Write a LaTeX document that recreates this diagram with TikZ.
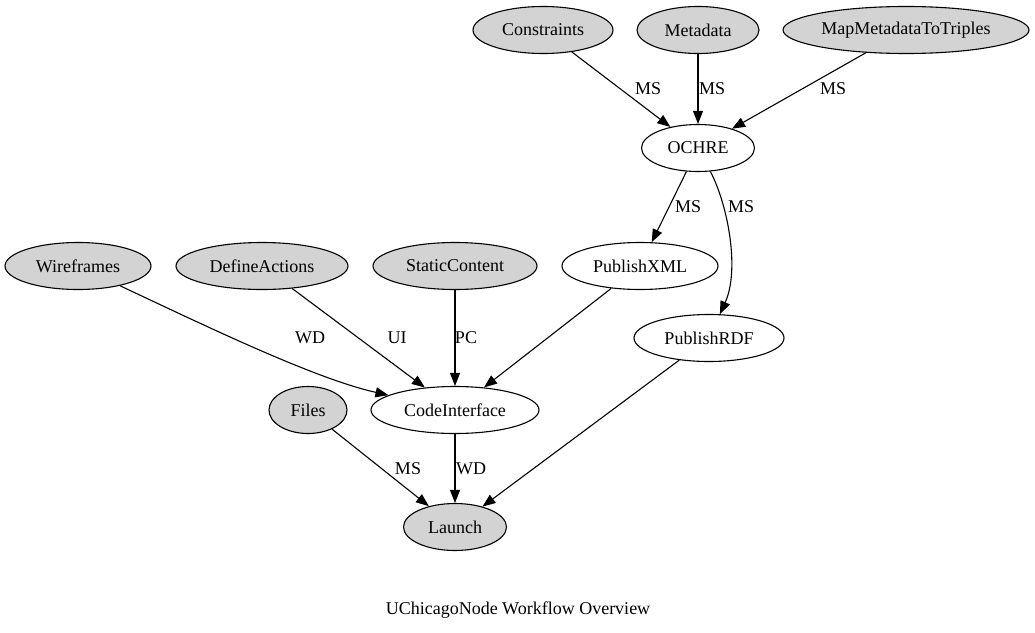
\documentclass[tikz,border=0pt]{standalone}
\usepackage{fontspec}
\setmainfont{Liberation Serif}
\usetikzlibrary{shapes.geometric,arrows.meta}
\definecolor{nodegray}{HTML}{D3D3D3}
\begin{document}
\begin{tikzpicture}[x=1pt,y=-1pt,
  base/.style={ellipse,draw=black,line width=1.1pt,inner sep=0pt,minimum height=47pt,font=\fontsize{18}{20}\selectfont},
  gn/.style={base,fill=nodegray},
  wn/.style={base,fill=white},
  lbl/.style={font=\fontsize{18}{20}\selectfont,inner sep=0pt},
  edge/.style={draw=black,line width=1.1pt,-{Triangle[length=13pt,width=10pt]}}]
\useasboundingbox (0,0) rectangle (1035,632);
% nodes
\node[gn,minimum width=140pt] (con) at (543,30) {Constraints};
\node[gn,minimum width=122pt] (meta) at (698,30) {Metadata};
\node[gn,minimum width=246pt] (map) at (906,30) {MapMetadataToTriples};
\node[wn,minimum width=113pt] (och) at (698,148) {OCHRE};
\node[wn,minimum width=156pt] (xml) at (640,266) {PublishXML};
\node[wn,minimum width=150pt] (rdf) at (709,338) {PublishRDF};
\node[gn,minimum width=146pt] (wf) at (78,266) {Wireframes};
\node[gn,minimum width=172pt] (da) at (262,266) {DefineActions};
\node[gn,minimum width=164pt] (sc) at (455,266) {StaticContent};
\node[gn,minimum width=78pt] (files) at (308,410) {Files};
\node[wn,minimum width=168pt] (ci) at (455,410) {CodeInterface};
\node[gn,minimum width=103pt] (launch) at (455,527) {Launch};
% edges
\draw[edge] (con) -- (och);
\draw[edge] (meta) -- (och);
\draw[edge] (map) -- (och);
\draw[edge] (och) -- (xml);
\draw[edge] (och) .. controls (728,205) and (740,270) .. (rdf);
\draw[edge] (wf) .. controls (212,329) and (316,379) .. (ci);
\draw[edge] (da) -- (ci);
\draw[edge] (sc) -- (ci);
\draw[edge] (xml) -- (ci);
\draw[edge] (files) -- (launch);
\draw[edge] (ci) -- (launch);
\draw[edge] (rdf) -- (launch);
% edge labels
\node[lbl] (l1) at (648,89) {MS};
\node[lbl] (l2) at (712,89) {MS};
\node[lbl] (l3) at (833,89) {MS};
\node[lbl] (l4) at (688,207) {MS};
\node[lbl] (l5) at (741,207) {MS};
\node[lbl] (l6) at (310,338) {WD};
\node[lbl] (l7) at (397,338) {UI};
\node[lbl] (l8) at (466,338) {PC};
\node[lbl] (l9) at (408,469) {MS};
\node[lbl] (l10) at (471,469) {WD};
% title
\node[lbl] (title) at (518,610) {UChicagoNode Workflow Overview};
\end{tikzpicture}
\end{document}
